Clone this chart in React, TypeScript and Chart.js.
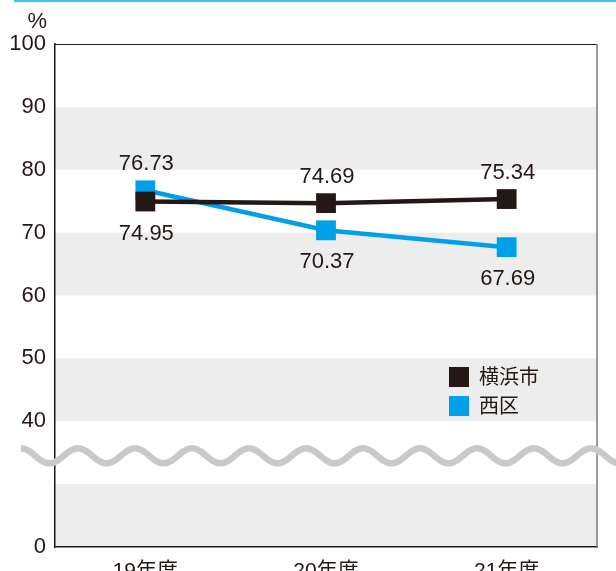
import React, { useEffect, useRef } from "react";
import { Chart, registerables } from "chart.js";

Chart.register(...registerables);

const CATEGORIES = ["19年度", "20年度", "21年度"];
const YOKOHAMA = [74.95, 74.69, 75.34];
const NISHI = [76.73, 70.37, 67.69];
const SERIES_NAMES = ["横浜市", "西区"];
const Y_TICK_VALUES = [20, 30, 40, 50, 60, 70, 80, 90, 100];
const Y_TICK_LABELS = ["0", "", "40", "50", "60", "70", "80", "90", "100"];
const BANDS: [number, number][] = [
  [20, 30],
  [40, 50],
  [60, 70],
  [80, 90],
];

const FONT = "'Liberation Sans', Arial, 'Noto Sans CJK JP', sans-serif";
const INK = "#231815";
const BLUE = "#00a0e9";

const decorPlugin = {
  id: "decor",
  beforeDraw(chart: any) {
    const { ctx, chartArea } = chart;
    const y = chart.scales.y;
    ctx.save();
    ctx.fillStyle = "#ecedec";
    for (const [a, b] of BANDS) {
      const p1 = y.getPixelForValue(b);
      const p2 = y.getPixelForValue(a);
      ctx.fillRect(chartArea.left, p1, chartArea.right - chartArea.left, p2 - p1);
    }
    ctx.restore();
  },
  afterDraw(chart: any) {
    const { ctx, chartArea } = chart;
    const y = chart.scales.y;
    ctx.save();
    // top cyan rule
    ctx.fillStyle = "#3ec2ee";
    ctx.fillRect(14, 0, 616 - 14, 2);
    // top & right frame
    ctx.strokeStyle = INK;
    ctx.lineWidth = 1;
    ctx.beginPath();
    ctx.moveTo(chartArea.left, chartArea.top + 0.5);
    ctx.lineTo(chartArea.right, chartArea.top + 0.5);
    ctx.stroke();
    ctx.strokeStyle = "#7a7a7a";
    ctx.lineWidth = 1.5;
    ctx.beginPath();
    ctx.moveTo(chartArea.right, chartArea.top);
    ctx.lineTo(chartArea.right, chartArea.bottom);
    ctx.stroke();
    // % unit
    ctx.fillStyle = INK;
    ctx.font = `22px ${FONT}`;
    ctx.textAlign = "right";
    ctx.textBaseline = "middle";
    ctx.fillText("%", 47, 22);
    // wave break
    const yc = y.getPixelForValue(34.5);
    ctx.strokeStyle = "#c9c9c9";
    ctx.lineWidth = 6.5;
    ctx.lineCap = "butt";
    ctx.beginPath();
    for (let x = 21; x <= 620; x += 1) {
      const yy = yc - 7.5 * Math.cos((2 * Math.PI * (x - 21)) / 57);
      if (x === 21) ctx.moveTo(x, yy);
      else ctx.lineTo(x, yy);
    }
    ctx.stroke();
    // legend
    const items = chart.data.datasets;
    ctx.font = `20px ${FONT}`;
    ctx.textAlign = "left";
    ctx.textBaseline = "middle";
    items.forEach((ds: any, i: number) => {
      const cy = 377 + i * 29;
      ctx.fillStyle = ds.borderColor;
      ctx.fillRect(449, cy - 10, 20, 20);
      ctx.fillStyle = INK;
      ctx.fillText(ds.label, 479, cy + 1);
    });
    ctx.restore();
  },
  afterDatasetsDraw(chart: any) {
    const { ctx } = chart;
    const ds = chart.data.datasets;
    ctx.save();
    ctx.font = `22px ${FONT}`;
    ctx.fillStyle = INK;
    ctx.textAlign = "center";
    ctx.textBaseline = "middle";
    const n = chart.data.labels.length;
    for (let i = 0; i < n; i++) {
      const v0 = ds[0].data[i];
      const v1 = ds[1].data[i];
      [0, 1].forEach((d) => {
        const el = chart.getDatasetMeta(d).data[i];
        const v = ds[d].data[i];
        const other = d === 0 ? v1 : v0;
        const above = v >= other;
        const yy = above ? el.y - 26 : el.y + 32;
        ctx.fillText(v.toFixed(2), el.x + 1, yy);
      });
    }
    ctx.restore();
  },
};

export default function App() {
  const ref = useRef<HTMLCanvasElement>(null);
  useEffect(() => {
    if (!ref.current) return;
    const chart = new Chart(ref.current, {
      type: "line",
      data: {
        labels: CATEGORIES,
        datasets: [
          {
            label: SERIES_NAMES[0],
            data: YOKOHAMA,
            borderColor: INK,
            backgroundColor: INK,
            borderWidth: 4.5,
            pointStyle: "rect",
            pointRadius: 14,
            pointBorderWidth: 0,
            tension: 0,
          },
          {
            label: SERIES_NAMES[1],
            data: NISHI,
            borderColor: BLUE,
            backgroundColor: BLUE,
            borderWidth: 4.5,
            pointStyle: "rect",
            pointRadius: 14,
            pointBorderWidth: 0,
            tension: 0,
          },
        ],
      },
      options: {
        responsive: false,
        animation: false,
        layout: { padding: { top: 44, left: 0, right: 19, bottom: 0 } },
        plugins: { legend: { display: false }, tooltip: { enabled: false } },
        scales: {
          x: {
            offset: true,
            grid: { display: false },
            border: { display: true, color: INK, width: 1.5 },
            ticks: { color: INK, font: { size: 21, family: FONT }, padding: 4 },
            afterFit(scale: any) {
              scale.height = 24;
            },
          },
          y: {
            min: 20,
            max: 100,
            grid: { display: false },
            border: { display: true, color: INK, width: 1.5 },
            afterBuildTicks(scale: any) {
              scale.ticks = Y_TICK_VALUES.map((v) => ({ value: v }));
            },
            ticks: {
              color: INK,
              font: { size: 22, family: FONT },
              padding: 1,
              autoSkip: false,
              callback: (v: any) => {
                const idx = Y_TICK_VALUES.indexOf(Number(v));
                return idx >= 0 ? Y_TICK_LABELS[idx] : "";
              },
            },
            afterFit(scale: any) {
              scale.width = 55;
            },
          },
        },
      },
      plugins: [decorPlugin],
    });
    return () => chart.destroy();
  }, []);
  return (
    <div style={{ position: "fixed", left: 0, top: 0, width: 616, height: 571, background: "#fff" }}>
      <canvas ref={ref} width={616} height={571} style={{ display: "block" }} />
    </div>
  );
}
